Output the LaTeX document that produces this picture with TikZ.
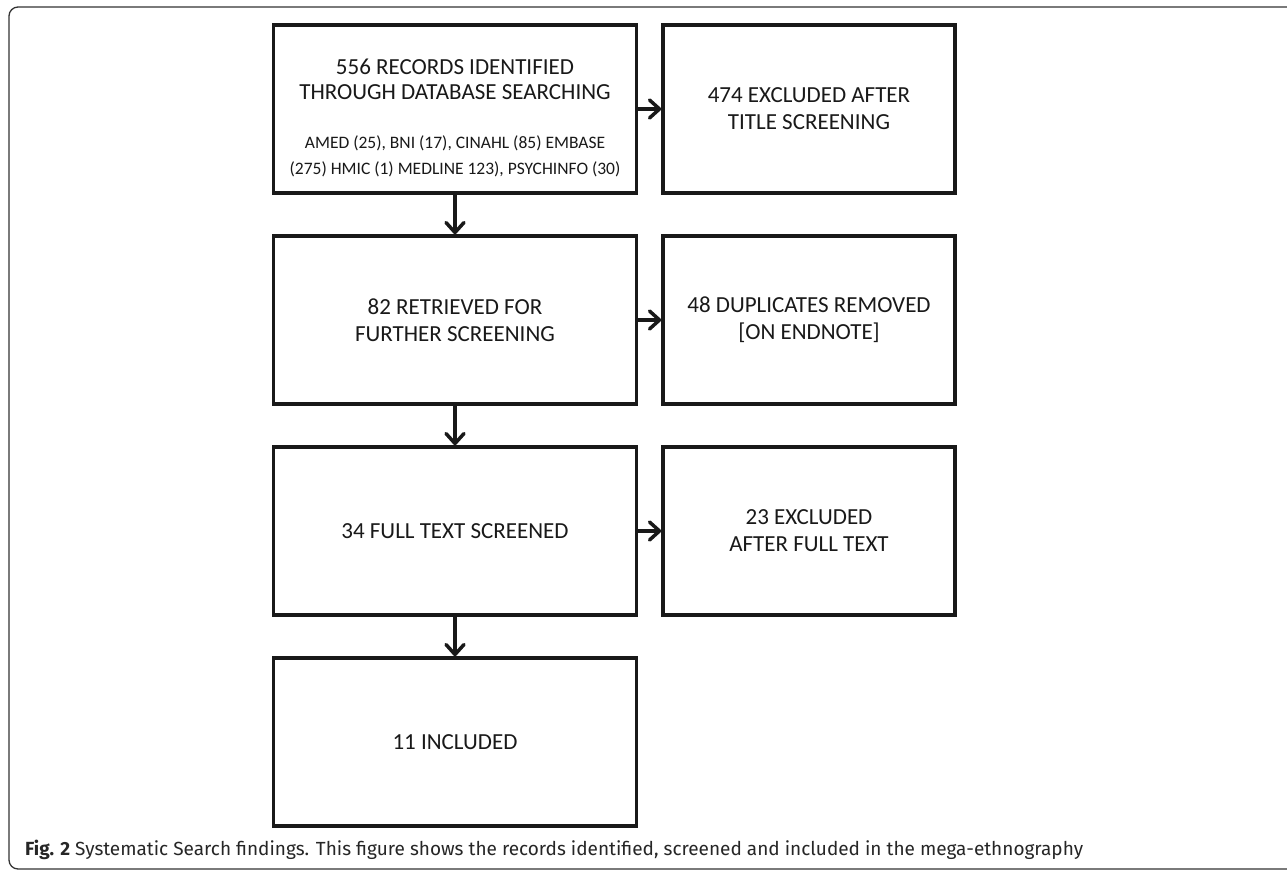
\documentclass[tikz,border=0pt]{standalone}
\usepackage{fontspec}
\setmainfont{Carlito}
\newfontfamily\capfont{Fira Sans}
\usetikzlibrary{positioning,arrows.meta}

\begin{document}
\begin{tikzpicture}[x=1pt,y=-1pt]
						\tikzstyle{every node}+=[inner sep=0pt]
						\tikzstyle{lbox}=[draw=black!90, line width=3.5pt, minimum width=363pt, minimum height=168pt, align=center, text=black!90, font=\fontsize{23}{27}\selectfont]
						\tikzstyle{rbox}=[lbox, minimum width=292pt]
						\tikzstyle{flow}=[line width=3.5pt, draw=black!90, -{Straight Barb[length=10pt,width=18pt,line join=round,line cap=round]}]
						\useasboundingbox (0,0) rectangle (1287,870);
						\clip (0,0) rectangle (1287,870);
						\fill [white] (0,0) rectangle (1287,870);
						\draw [black!80, line width=1.3pt, rounded corners=9pt] (9,7) rectangle (1300,869);
						\node [lbox] (found) at (455,109) {\rule{0pt}{34pt}556 RECORDS IDENTIFIED\\[-2pt]THROUGH DATABASE SEARCHING\\[22pt]{\fontsize{17.5}{20}\selectfont AMED (25), BNI (17), CINAHL (85) EMBASE}\\[-1pt]{\fontsize{17.5}{20}\selectfont (275) HMIC (1) MEDLINE 123), PSYCHINFO (30)}};
						\node [lbox, below=39.5pt of found] (retrieved) {82 RETRIEVED FOR\\FURTHER SCREENING};
						\node [lbox, below=39.5pt of retrieved] (fulltext) {34 FULL TEXT SCREENED};
						\node [lbox, below=39.5pt of fulltext] (included) {11 INCLUDED};
						\node [rbox, right=23pt of found] (title) {474 EXCLUDED AFTER\\TITLE SCREENING};
						\node [rbox, right=23pt of retrieved] (duplicates) {48 DUPLICATES REMOVED\\{[}ON ENDNOTE{]}};
						\node [rbox, right=23pt of fulltext] (excluded) {23 EXCLUDED\\AFTER FULL TEXT};
						\draw [flow] (found) -- (retrieved);
						\draw [flow] (retrieved) -- (fulltext);
						\draw [flow] (fulltext) -- (included);
						\draw [flow] (found) -- (title);
						\draw [flow] (retrieved) -- (duplicates);
						\draw [flow] (fulltext) -- (excluded);
						\node [anchor=base west, text=black!85, font=\capfont\fontsize{19}{22}\selectfont] (caption) at (25,855) {\textbf{Fig. 2} Systematic Search findings. This figure shows the records identified, screened and included in the mega-ethnography};
					\end{tikzpicture}
\end{document}
